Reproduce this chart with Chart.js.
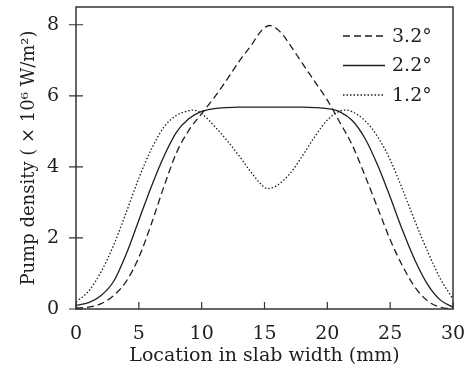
<!DOCTYPE html>
<html>
<head>
<meta charset="utf-8">
<script src="https://cdn.jsdelivr.net/npm/chart.js@4.4.1/dist/chart.umd.min.js"></script>
<style>
  html, body { margin: 0; padding: 0; background: #fff; }
  #wrap { width: 466px; height: 375px; position: relative; }
</style>
</head>
<body>
<div id="wrap"><canvas id="c" width="466" height="375"></canvas></div>
<script>
// ---- data ----
const xs = [0,1,2,3,4,5,6,7,8,9,10,11,12,13,14,15,16,17,18,19,20,21,22,23,24,25,26,27,28,29,30];

const dashX = [0,1,2,3,4,5,6,7,8,9,10,11,12,13,14,14.5,15,15.4,16,16.5,17,18,19,20,21,22,23,24,25,26,27,28,29,30];
const dash32 = [0.03,0.05,0.15,0.38,0.78,1.45,2.4,3.45,4.4,5.04,5.5,5.95,6.45,6.98,7.45,7.72,7.92,7.98,7.88,7.7,7.45,6.92,6.4,5.88,5.25,4.6,3.75,2.85,1.95,1.2,0.6,0.22,0.05,0.0];

const solid22 = [0.1,0.18,0.38,0.78,1.55,2.5,3.45,4.3,4.98,5.36,5.56,5.64,5.67,5.68,5.68,5.68,5.68,5.68,5.68,5.67,5.64,5.55,5.3,4.8,4.05,3.15,2.2,1.35,0.68,0.25,0.05];

const dotX = [0,1,2,3,4,5,6,7,8,9,9.3,10,11,12,13,14,15,15.3,16,17,18,19,20,21,21.5,22,23,24,25,26,27,28,29,30];
const dot12 = [0.2,0.5,1.05,1.8,2.72,3.68,4.5,5.12,5.45,5.58,5.6,5.5,5.15,4.75,4.3,3.82,3.42,3.39,3.48,3.8,4.3,4.85,5.32,5.57,5.6,5.55,5.3,4.85,4.2,3.35,2.45,1.6,0.85,0.28];

const seriesLabels = ['3.2°', '2.2°', '1.2°'];
const xTicks = [0,5,10,15,20,25,30];
const yTicks = [0,2,4,6,8];
const xTitle = 'Location in slab width (mm)';
const yTitle = 'Pump density ( × 10⁶ W/m²)';

const pts = (xa, ya) => xa.map((x, i) => ({x: x, y: ya[i]}));

const FONT = "'DejaVu Serif', 'Liberation Serif', serif";
const INK = '#1e1e1e';

const frame = {
  id: 'frame',
  afterDatasetsDraw(chart) {
    const {ctx, chartArea: a, scales} = chart;
    ctx.save();
    ctx.strokeStyle = '#333';
    ctx.lineWidth = 1.5;
    ctx.strokeRect(a.left, a.top, a.right - a.left, a.bottom - a.top);
    ctx.lineWidth = 1.2;
    ctx.beginPath();
    xTicks.forEach(v => {
      const px = scales.x.getPixelForValue(v);
      ctx.moveTo(px, a.bottom); ctx.lineTo(px, a.bottom - 7);
    });
    yTicks.forEach(v => {
      const py = scales.y.getPixelForValue(v);
      ctx.moveTo(a.left - 7, py); ctx.lineTo(a.left + 7, py);
    });
    ctx.stroke();
    // legend
    ctx.font = '19px ' + FONT;
    ctx.fillStyle = INK;
    ctx.textBaseline = 'middle';
    chart.data.datasets.forEach((ds, i) => {
      const y = a.top + 29 + i * 29.5;
      ctx.save();
      ctx.strokeStyle = ds.borderColor;
      ctx.lineWidth = ds.borderWidth;
      ctx.setLineDash(ds.borderDash || []);
      ctx.beginPath();
      ctx.moveTo(a.right - 110, y); ctx.lineTo(a.right - 68, y);
      ctx.stroke();
      ctx.restore();
      ctx.fillText(ds.label, a.right - 61, y + 1);
    });
    ctx.restore();
  }
};

new Chart(document.getElementById('c'), {
  type: 'line',
  data: {
    datasets: [
      { label: seriesLabels[0], data: pts(dashX, dash32), borderColor: INK, borderWidth: 1.3, borderDash: [7, 4], pointRadius: 0, cubicInterpolationMode: 'monotone', fill: false },
      { label: seriesLabels[1], data: pts(xs, solid22), borderColor: INK, borderWidth: 1.3, pointRadius: 0, cubicInterpolationMode: 'monotone', fill: false },
      { label: seriesLabels[2], data: pts(dotX, dot12), borderColor: INK, borderWidth: 1.3, borderDash: [1.5, 2], pointRadius: 0, cubicInterpolationMode: 'monotone', fill: false }
    ]
  },
  options: {
    responsive: false,
    animation: false,
    devicePixelRatio: 1,
    layout: { padding: { top: 7, right: 13, left: 0, bottom: 0 } },
    plugins: { legend: { display: false }, tooltip: { enabled: false } },
    scales: {
      x: {
        type: 'linear', min: 0, max: 30,
        afterBuildTicks: s => { s.ticks = xTicks.map(v => ({value: v})); },
        afterFit: s => { s.height = 66; s.paddingLeft = 0; s.paddingRight = 0; },
        grid: { display: false }, border: { display: false },
        ticks: { color: INK, font: { family: FONT, size: 19 }, padding: 6, maxRotation: 0 },
        title: { display: true, text: xTitle, color: INK, font: { family: FONT, size: 19 }, padding: { top: 0, bottom: 8 } }
      },
      y: {
        type: 'linear', min: 0, max: 8.5,
        afterBuildTicks: s => { s.ticks = yTicks.map(v => ({value: v})); },
        afterFit: s => { s.width = 76; s.paddingTop = 0; s.paddingBottom = 0; },
        grid: { display: false }, border: { display: false },
        ticks: { color: INK, font: { family: FONT, size: 19 }, padding: 9 },
        title: { display: true, text: yTitle, color: INK, font: { family: FONT, size: 18 }, padding: { top: 19, bottom: 0 } }
      }
    }
  },
  plugins: [frame]
});
</script>
</body>
</html>
